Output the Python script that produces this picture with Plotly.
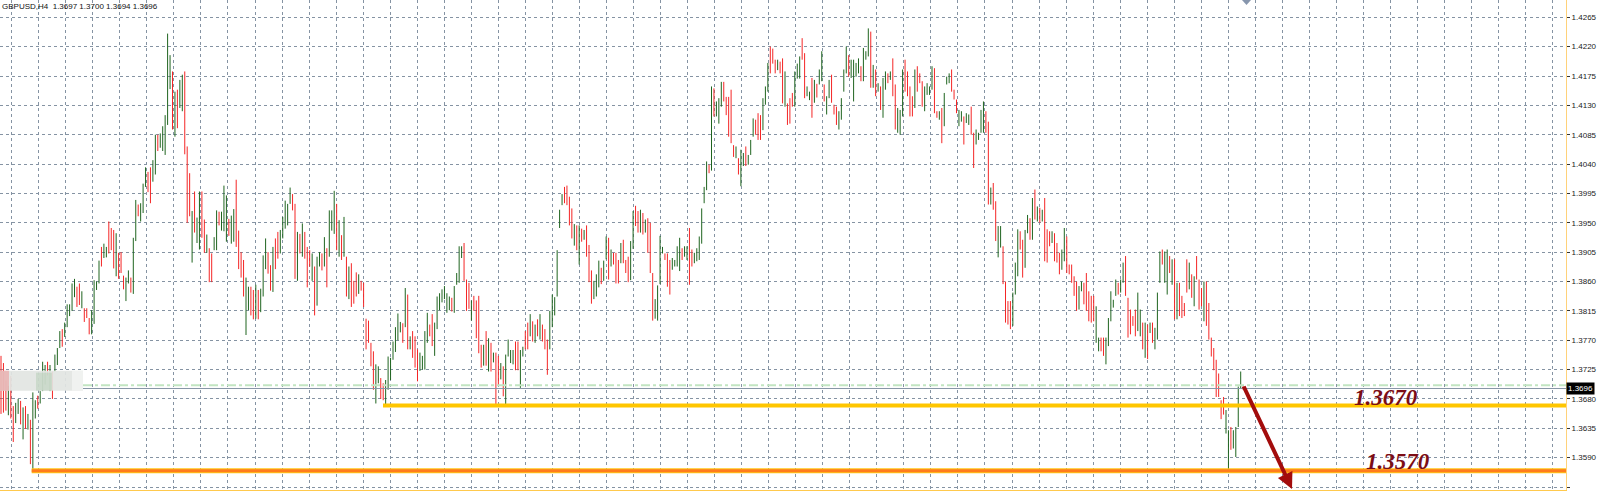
import plotly.graph_objects as go

# ---------------- data (GBPUSD H4) ----------------
highs = [
 1.3746,1.3735,1.3708,1.3700,1.3715,1.3669,1.3674,1.3680,1.3677,1.3667,
 1.3669,1.3657,1.3648,1.3690,1.3678,1.3685,1.3692,1.3737,1.3732,1.3737,
 1.3732,1.3722,1.3748,1.3758,1.3784,1.3787,1.3797,1.3825,1.3825,1.3857,
 1.3864,1.3852,1.3857,1.3845,1.3819,1.3819,1.3804,1.3816,1.3862,1.3860,
 1.3892,1.3913,1.3918,1.3913,1.3952,1.3942,1.3939,1.3934,1.3904,1.3905,
 1.3869,1.3866,1.3877,1.3866,1.3927,1.3985,1.3978,1.3980,1.4010,1.4035,
 1.4028,1.4035,1.4046,1.4085,1.4085,1.4087,1.4098,1.4115,1.4240,1.4207,
 1.4182,1.4151,1.4154,1.4169,1.4177,1.4182,1.4067,1.4026,1.3968,1.3998,
 1.3958,1.3998,1.3998,1.3955,1.3932,1.3911,1.3903,1.3928,1.3969,1.3967,
 1.3967,1.4007,1.3992,1.3956,1.3961,1.3971,1.4016,1.3938,1.3905,1.3893,
 1.3866,1.3852,1.3852,1.3847,1.3855,1.3847,1.3849,1.3900,1.3926,1.3905,
 1.3885,1.3913,1.3926,1.3936,1.3939,1.3959,1.3984,1.3979,1.4004,1.3994,
 1.3979,1.3936,1.3933,1.3949,1.3936,1.3913,1.3908,1.3903,1.3883,1.3898,
 1.3905,1.3903,1.3928,1.3911,1.3969,1.3969,1.3999,1.3979,1.3954,1.3931,
 1.3959,1.3898,1.3883,1.3888,1.3861,1.3874,1.3871,1.3861,1.3858,1.3803,
 1.3800,1.3766,1.3753,1.3733,1.3730,1.3712,1.3704,1.3709,1.3745,1.3743,
 1.3768,1.3790,1.3811,1.3798,1.3796,1.3850,1.3840,1.3776,1.3784,1.3776,
 1.3756,1.3751,1.3746,1.3784,1.3812,1.3794,1.3810,1.3797,1.3837,1.3842,
 1.3848,1.3853,1.3842,1.3837,1.3835,1.3853,1.3873,1.3914,1.3914,1.3919,
 1.3863,1.3858,1.3831,1.3838,1.3831,1.3838,1.3763,1.3763,1.3784,1.3773,
 1.3766,1.3751,1.3751,1.3746,1.3735,1.3730,1.3748,1.3771,1.3755,1.3755,
 1.3768,1.3768,1.3755,1.3760,1.3784,1.3797,1.3810,1.3799,1.3794,1.3802,
 1.3810,1.3794,1.3787,1.3771,1.3815,1.3840,1.3836,1.3908,1.3970,1.3994,
 1.4005,1.4007,1.3990,1.3972,1.3948,1.3946,1.3946,1.3941,1.3939,1.3946,
 1.3916,1.3877,1.3861,1.3871,1.3892,1.3881,1.3892,1.3929,1.3927,1.3909,
 1.3904,1.3904,1.3893,1.3919,1.3924,1.3893,1.3898,1.3922,1.3968,1.3976,
 1.3968,1.3970,1.3965,1.3955,1.3957,1.3950,1.3873,1.3833,1.3854,1.3930,
 1.3913,1.3903,1.3903,1.3893,1.3896,1.3893,1.3914,1.3927,1.3911,1.3914,
 1.3914,1.3942,1.3909,1.3904,1.3911,1.3929,1.3972,1.4005,1.4044,1.4039,
 1.4159,1.4156,1.4136,1.4141,1.4166,1.4166,1.4143,1.4143,1.4154,1.4069,
 1.4067,1.4049,1.4062,1.4057,1.4067,1.4054,1.4077,1.4110,1.4108,1.4118,
 1.4115,1.4141,1.4159,1.4195,1.4220,1.4217,1.4200,1.4200,1.4197,1.4202,
 1.4182,1.4133,1.4141,1.4149,1.4182,1.4194,1.4205,1.4233,1.4210,1.4159,
 1.4151,1.4172,1.4169,1.4163,1.4185,1.4213,1.4162,1.4144,1.4169,1.4177,
 1.4131,1.4128,1.4121,1.4141,1.4185,1.4220,1.4207,1.4200,1.4200,1.4195,
 1.4202,1.4190,1.4218,1.4213,1.4248,1.4243,1.4192,1.4185,1.4164,1.4159,
 1.4172,1.4182,1.4179,1.4182,1.4202,1.4162,1.4126,1.4123,1.4185,1.4200,
 1.4182,1.4159,1.4144,1.4185,1.4190,1.4179,1.4167,1.4159,1.4164,1.4159,
 1.4190,1.4187,1.4121,1.4121,1.4126,1.4149,1.4174,1.4179,1.4185,1.4154,
 1.4139,1.4123,1.4121,1.4113,1.4118,1.4116,1.4128,1.4088,1.4093,1.4088,
 1.4123,1.4136,1.4121,1.4105,1.4004,1.4011,1.3983,1.3945,1.3945,1.3914,
 1.3860,1.3830,1.3830,1.3843,1.3889,1.3940,1.3937,1.3924,1.3939,1.3962,
 1.3957,1.3988,1.4001,1.3975,1.3973,1.3970,1.3988,1.3940,1.3937,1.3937,
 1.3934,1.3919,1.3904,1.3909,1.3942,1.3929,1.3886,1.3886,1.3868,1.3860,
 1.3853,1.3860,1.3858,1.3873,1.3845,1.3838,1.3838,1.3822,1.3774,1.3774,
 1.3774,1.3774,1.3804,1.3845,1.3832,1.3863,1.3858,1.3863,1.3889,1.3899,
 1.3835,1.3817,1.3807,1.3817,1.3843,1.3817,1.3797,1.3797,1.3794,1.3797,
 1.3797,1.3789,1.3843,1.3906,1.3909,1.3906,1.3909,1.3899,1.3894,1.3894,
 1.3858,1.3858,1.3838,1.3827,1.3894,1.3889,1.3871,1.3868,1.3899,1.3863,
 1.3850,1.3860,1.3860,1.3827,1.3774,1.3758,1.3740,1.3719,1.3678,1.3683,
 1.3663,1.3632,1.3637,1.3632,1.3637,1.3699,1.3722,1.3700,
]

lows = [
 1.3657,1.3659,1.3662,1.3655,1.3650,1.3614,1.3643,1.3657,1.3641,1.3618,
 1.3634,1.3633,1.3580,1.3570,1.3650,1.3665,1.3673,1.3692,1.3702,1.3716,
 1.3692,1.3680,1.3722,1.3732,1.3758,1.3760,1.3775,1.3790,1.3807,1.3815,
 1.3836,1.3821,1.3824,1.3819,1.3798,1.3804,1.3779,1.3779,1.3795,1.3847,
 1.3857,1.3883,1.3896,1.3897,1.3903,1.3908,1.3880,1.3868,1.3864,1.3873,
 1.3848,1.3830,1.3857,1.3843,1.3841,1.3922,1.3960,1.3952,1.3965,1.4005,
 1.3997,1.3980,1.4013,1.4024,1.4060,1.4065,1.4060,1.4054,1.4100,1.4155,
 1.4093,1.4082,1.4095,1.4126,1.4121,1.4055,1.3950,1.3960,1.3889,1.3935,
 1.3919,1.3909,1.3927,1.3904,1.3904,1.3859,1.3859,1.3908,1.3908,1.3946,
 1.3938,1.3937,1.3921,1.3930,1.3918,1.3921,1.3913,1.3879,1.3866,1.3837,
 1.3778,1.3816,1.3808,1.3802,1.3803,1.3802,1.3813,1.3837,1.3879,1.3872,
 1.3846,1.3844,1.3879,1.3895,1.3903,1.3926,1.3941,1.3946,1.3979,1.3969,
 1.3864,1.3861,1.3903,1.3898,1.3895,1.3851,1.3883,1.3861,1.3808,1.3823,
 1.3883,1.3877,1.3883,1.3851,1.3898,1.3938,1.3933,1.3908,1.3898,1.3893,
 1.3898,1.3837,1.3833,1.3821,1.3826,1.3837,1.3841,1.3846,1.3821,1.3756,
 1.3766,1.3730,1.3694,1.3673,1.3704,1.3680,1.3678,1.3668,1.3694,1.3709,
 1.3740,1.3752,1.3770,1.3782,1.3766,1.3790,1.3756,1.3756,1.3743,1.3728,
 1.3707,1.3723,1.3725,1.3725,1.3766,1.3776,1.3761,1.3746,1.3787,1.3816,
 1.3828,1.3833,1.3812,1.3816,1.3814,1.3812,1.3855,1.3858,1.3896,1.3861,
 1.3815,1.3818,1.3800,1.3815,1.3773,1.3750,1.3728,1.3731,1.3731,1.3722,
 1.3722,1.3736,1.3669,1.3700,1.3710,1.3684,1.3668,1.3745,1.3735,1.3733,
 1.3724,1.3724,1.3697,1.3745,1.3756,1.3756,1.3776,1.3768,1.3766,1.3776,
 1.3771,1.3768,1.3756,1.3717,1.3756,1.3790,1.3808,1.3837,1.3942,1.3977,
 1.3980,1.3977,1.3946,1.3926,1.3915,1.3908,1.3886,1.3921,1.3924,1.3898,
 1.3859,1.3826,1.3833,1.3837,1.3851,1.3856,1.3861,1.3894,1.3863,1.3883,
 1.3886,1.3857,1.3857,1.3888,1.3888,1.3873,1.3859,1.3862,1.3910,1.3945,
 1.3935,1.3935,1.3932,1.3935,1.3904,1.3873,1.3800,1.3803,1.3800,1.3856,
 1.3903,1.3893,1.3852,1.3840,1.3878,1.3883,1.3883,1.3876,1.3893,1.3898,
 1.3893,1.3855,1.3883,1.3888,1.3891,1.3893,1.3918,1.3980,1.4000,1.4026,
 1.4030,1.4113,1.4113,1.4102,1.4128,1.4136,1.4115,1.4082,1.4072,1.4051,
 1.4049,1.4024,1.4006,1.4037,1.4037,1.4039,1.4054,1.4082,1.4085,1.4077,
 1.4077,1.4092,1.4131,1.4151,1.4179,1.4194,1.4179,1.4184,1.4179,1.4133,
 1.4128,1.4100,1.4102,1.4128,1.4128,1.4171,1.4171,1.4200,1.4141,1.4144,
 1.4138,1.4111,1.4134,1.4142,1.4162,1.4167,1.4136,1.4116,1.4141,1.4134,
 1.4116,1.4100,1.4093,1.4108,1.4151,1.4179,1.4174,1.4172,1.4136,1.4174,
 1.4179,1.4167,1.4167,1.4200,1.4205,1.4157,1.4157,1.4144,1.4151,1.4123,
 1.4111,1.4154,1.4164,1.4169,1.4144,1.4093,1.4088,1.4085,1.4113,1.4151,
 1.4144,1.4113,1.4113,1.4126,1.4151,1.4164,1.4128,1.4121,1.4146,1.4146,
 1.4154,1.4118,1.4111,1.4108,1.4072,1.4098,1.4162,1.4164,1.4151,1.4139,
 1.4118,1.4098,1.4105,1.4070,1.4103,1.4100,1.4085,1.4034,1.4070,1.4077,
 1.4088,1.4088,1.4088,1.3978,1.3978,1.3970,1.3922,1.3897,1.3912,1.3856,
 1.3797,1.3794,1.3787,1.3792,1.3840,1.3868,1.3909,1.3866,1.3881,1.3934,
 1.3924,1.3924,1.3955,1.3952,1.3950,1.3952,1.3891,1.3889,1.3914,1.3919,
 1.3891,1.3889,1.3871,1.3878,1.3891,1.3873,1.3871,1.3858,1.3838,1.3815,
 1.3817,1.3845,1.3825,1.3815,1.3799,1.3797,1.3799,1.3766,1.3753,1.3753,
 1.3746,1.3733,1.3761,1.3799,1.3820,1.3838,1.3840,1.3843,1.3858,1.3838,
 1.3774,1.3779,1.3792,1.3776,1.3784,1.3776,1.3756,1.3743,1.3741,1.3781,
 1.3766,1.3756,1.3771,1.3858,1.3886,1.3858,1.3840,1.3873,1.3855,1.3802,
 1.3802,1.3807,1.3804,1.3807,1.3843,1.3848,1.3835,1.3822,1.3863,1.3817,
 1.3822,1.3799,1.3792,1.3771,1.3745,1.3724,1.3683,1.3683,1.3649,1.3656,
 1.3627,1.3571,1.3602,1.3604,1.3591,1.3637,1.3696,1.3694,
]

# u = bullish bar, d = bearish bar
direction = (
 "dddudduudu" "duduuduuud" "uduuuduuuu" "udduddduuu" "uduudddudd"
 "duuduuduuu" "dduuduuuuu" "duduudddud" "uuddudduud" "uuuduudddd"
 "uudduduuud" "dudduuuuud" "dududddudu" "ududuuudud" "ududdduddd"
 "ddduudduuu" "uuuudududd" "duuuudduuu" "uuuuduuuud" "dduddddudu"
 "dudduduuuu" "dduuddudud" "uddduuuuuu" "ddddududud" "dduuuduudu"
 "ddduddduud" "dududdduuu" "uddduuuudu" "udduuuuuud" "uduuuddddd"
 "uduuduuudd" "duuudddudd" "uddduuuddu" "ududuuduud" "dduuuuduuu"
 "uduuududud" "uududduuud" "ddduddduuu" "udduduuudd" "duuduudduu"
 "uuddudduud" "ddduuudduu" "dudududddu" "ddduuddddd" "uuddddduud"
 "duuuuuduud" "dddduududu" "duuuduudud" "uddddududd" "dudddddddd"
 "uuduuuud"
)

levels = [1.3670, 1.3570]          # marked support levels
level_labels = ["1.3670", "1.3570"]
last_price = 1.3696                 # bid line
ask_price = 1.3701                  # ask line
header = "GBPUSD,H4\u00a0\u00a01.3697 1.3700 1.3694 1.3696"

# ---------------- geometry ----------------
W, H = 1600, 491
PW, PH = 1566, 490                  # plot area in pixels
BAR0, STEP = 1.0, 2.45              # pixel of first bar, pixel spacing of bars
Y_TOP, Y_BOT = 1.42915, 1.35404


def px(x):
    return x / PW


def py(y):
    return 1 - y / PH


n = min(len(highs), len(lows), len(direction))
ux, uy, dx, dy = [], [], [], []
for i in range(n):
    if direction[i] == "u":
        ux += [i, i, None]
        uy += [lows[i], highs[i], None]
    else:
        dx += [i, i, None]
        dy += [lows[i], highs[i], None]

fig = go.Figure()
fig.add_trace(go.Scatter(x=ux, y=uy, mode="lines", line=dict(color="#1f641f", width=1),
                         hoverinfo="skip", showlegend=False))
fig.add_trace(go.Scatter(x=dx, y=dy, mode="lines", line=dict(color="#f42626", width=1),
                         hoverinfo="skip", showlegend=False))

grid = dict(showgrid=True, gridcolor="#8593a3", griddash="3px,3px", gridwidth=1)

fig.update_layout(
    width=W, height=H,
    margin=dict(l=0, r=W - PW, t=0, b=H - PH),
    paper_bgcolor="white", plot_bgcolor="white",
    showlegend=False,
    xaxis=dict(range=[(0 - BAR0) / STEP, (PW - BAR0) / STEP],
               tick0=(11.7 - BAR0) / STEP, dtick=27.035 / STEP,
               showticklabels=False, ticks="", zeroline=False,
               showline=True, linecolor="#ffc94d", linewidth=1, **grid),
    yaxis=dict(range=[Y_BOT, Y_TOP], side="right", tick0=1.3545, dtick=0.0045,
               tickformat=".4f", ticks="outside", ticklen=3, tickcolor="#333333",
               tickfont=dict(family="Liberation Sans", size=8, color="#1a1a1a"),
               zeroline=False, showline=True, linecolor="#ffd27a", linewidth=1, **grid),
)

shapes = []
# support levels
shapes.append(dict(type="line", xref="paper", yref="y", x0=px(31.7), x1=1,
                   y0=levels[1], y1=levels[1], line=dict(color="#ffc61a", width=5)))
shapes.append(dict(type="line", xref="paper", yref="y", x0=px(31.7), x1=1,
                   y0=levels[1], y1=levels[1], line=dict(color="#ff7b1c", width=3)))
shapes.append(dict(type="line", xref="paper", yref="y", x0=px(383), x1=1,
                   y0=levels[0], y1=levels[0], line=dict(color="#ffc600", width=4)))
# ask / bid lines
shapes.append(dict(type="line", xref="paper", yref="y", x0=px(83), x1=1,
                   y0=ask_price, y1=ask_price,
                   line=dict(color="#c2e5c2", width=2, dash="dashdot")))
shapes.append(dict(type="line", xref="paper", yref="y", x0=px(83), x1=1,
                   y0=last_price, y1=last_price, line=dict(color="#8795a6", width=1)))
# blurred patch at the left
shapes.append(dict(type="rect", xref="paper", yref="paper", x0=0, x1=px(83),
                   y0=py(390.7), y1=py(370.7), line=dict(width=0),
                   fillcolor="rgba(226,229,226,0.93)"))
shapes.append(dict(type="rect", xref="paper", yref="paper", x0=0, x1=px(9),
                   y0=py(390.7), y1=py(370.7), line=dict(width=0),
                   fillcolor="rgba(236,150,150,0.55)"))
shapes.append(dict(type="rect", xref="paper", yref="paper", x0=px(36), x1=px(52),
                   y0=py(390.7), y1=py(372.7), line=dict(width=0),
                   fillcolor="rgba(150,190,150,0.30)"))
shapes.append(dict(type="rect", xref="paper", yref="paper", x0=px(72), x1=px(83),
                   y0=py(390.7), y1=py(370.7), line=dict(width=0),
                   fillcolor="rgba(245,246,245,0.7)"))
# chart-shift marker at the top
shapes.append(dict(type="path", xref="paper", yref="paper",
                   path=f"M {px(1242)} {py(0)} L {px(1251)} {py(0)} L {px(1246.5)} {py(5)} Z",
                   fillcolor="#8796ad", line=dict(width=0)))
fig.update_layout(shapes=shapes)

annotations = [
    dict(xref="paper", yref="paper", x=0, y=py(6.5), xanchor="left", yanchor="middle",
         text=header, showarrow=False,
         font=dict(family="Liberation Sans", size=8, color="#111111")),
    dict(xref="paper", yref="y", x=1.0, y=last_price, xanchor="left", yanchor="middle",
         text="1.3696", showarrow=False, bgcolor="#000000", borderpad=1,
         font=dict(family="Liberation Sans", size=8, color="#ffffff")),
    dict(xref="paper", yref="paper", x=px(1386), y=py(397), xanchor="center", yanchor="middle",
         text=level_labels[0], showarrow=False,
         font=dict(family="Liberation Serif", size=23, color="#7b0d16", weight="bold", style="italic")),
    dict(xref="paper", yref="paper", x=px(1398), y=py(461), xanchor="center", yanchor="middle",
         text=level_labels[1], showarrow=False,
         font=dict(family="Liberation Serif", size=23, color="#7b0d16", weight="bold", style="italic")),
    dict(xref="paper", yref="paper", x=px(1292), y=py(489), ax=-49, ay=-104, text="",
         showarrow=True, arrowhead=2, arrowsize=0.8, arrowwidth=4, arrowcolor="#a30c0c",
         standoff=0),
]
fig.update_layout(annotations=annotations)

fig.write_html("out.html", config={"displayModeBar": False},
               post_script="document.body.style.margin='0';document.body.style.overflow='hidden';")
